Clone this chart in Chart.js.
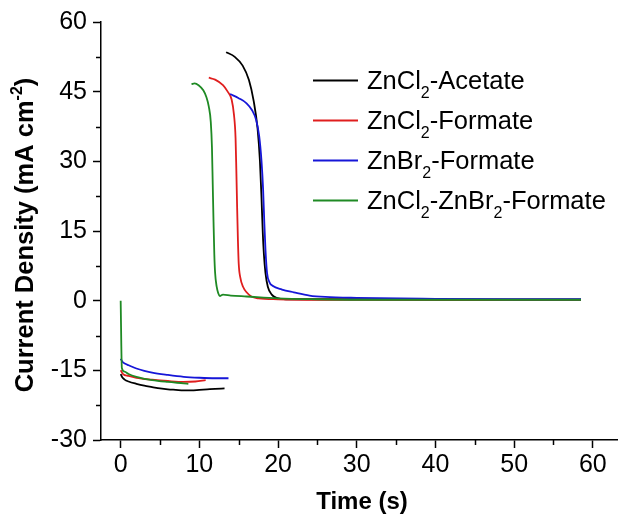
<!DOCTYPE html>
<html>
<head>
<meta charset="utf-8">
<script src="https://cdn.jsdelivr.net/npm/chart.js@4/dist/chart.umd.min.js"></script>
<style>
  html, body { margin: 0; padding: 0; background: #fff; }
  #wrap { width: 618px; height: 514px; }
</style>
</head>
<body>
<div id="wrap"><canvas id="chart" width="618" height="514"></canvas></div>
<script>
// noms des series (_{..} = indice, ^{..} = exposant)
const seriesNames  = ["ZnCl_{2}-Acetate", "ZnCl_{2}-Formate", "ZnBr_{2}-Formate", "ZnCl_{2}-ZnBr_{2}-Formate"];
const seriesColors = ["#000000", "#e01e1e", "#1616d8", "#1f8a24"];

// ZnCl2-Acetate
const clAcNegT = [0, 0.2, 0.5, 1, 2, 3, 4, 5, 6, 7, 8, 9, 10, 11, 12, 13.2];
const clAcNegI = [-15.8, -16.5, -17.0, -17.4, -17.9, -18.3, -18.6, -18.9, -19.1, -19.2, -19.3, -19.3, -19.2, -19.1, -19.0, -18.9];
const clAcPosT = [13.4, 14.5, 15.5, 16.3, 16.9, 17.4, 17.7, 17.9, 18.05, 18.2, 18.4, 18.7, 19.2, 19.8, 21, 25, 30, 40, 50, 58.5];
const clAcPosI = [53.5, 52.5, 50.6, 47.5, 43, 37, 30, 22, 15, 10, 6, 3, 1.3, 0.6, 0.3, 0.3, 0.3, 0.2, 0.2, 0.2];

// ZnCl2-Formate
const clFoNegT = [0, 0.3, 1, 2, 4, 6, 8, 9.5, 10.8];
const clFoNegI = [-15.0, -15.8, -16.2, -16.6, -17.0, -17.3, -17.5, -17.4, -17.1];
const clFoPosT = [11.2, 12.0, 13.0, 13.6, 14.1, 14.4, 14.6, 14.7, 14.8, 14.9, 15.0, 15.2, 15.55, 16, 16.6, 17.5, 20, 25, 30, 40, 50, 58.5];
const clFoPosI = [48.0, 47.6, 46.4, 45.0, 43.3, 40, 35, 28, 20, 13, 8, 5, 3, 1.8, 0.9, 0.5, 0.3, 0.2, 0.2, 0.2, 0.2, 0.2];

// ZnBr2-Formate
const brFoNegT = [0, 0.2, 0.6, 1, 2, 3, 4, 6, 8, 10, 12, 13.7];
const brFoNegI = [-12.5, -13.1, -13.6, -13.9, -14.6, -15.1, -15.5, -16.0, -16.4, -16.6, -16.7, -16.7];
const brFoPosT = [13.9, 15, 16, 16.7, 17.2, 17.6, 17.9, 18.1, 18.25, 18.4, 18.6, 18.9, 19.3, 20.5, 22, 24, 26, 30, 40, 50, 58.5];
const brFoPosI = [44.5, 43.6, 42.5, 41, 39, 35.5, 30, 24, 17, 11, 6, 4, 3.2, 2.4, 1.8, 1.1, 0.8, 0.6, 0.4, 0.3, 0.3];

// ZnCl2-ZnBr2-Formate
const mixNegT = [0, 0.15, 0.5, 1, 2, 4, 6, 8, 8.6];
const mixNegI = [0, -14.5, -15.3, -15.8, -16.4, -17.1, -17.5, -17.8, -17.9];
const mixPosT = [9.0, 9.4, 9.9, 10.5, 10.9, 11.2, 11.45, 11.6, 11.7, 11.8, 11.9, 12.0, 12.2, 12.4, 12.6, 13.0, 14, 16, 20, 25, 30, 40, 50, 58.5];
const mixPosI = [46.6, 46.8, 46.4, 45.3, 43.8, 41.8, 38.5, 33, 25, 17, 10, 6, 3, 1.6, 1.0, 1.3, 1.1, 0.9, 0.5, 0.3, 0.2, 0.2, 0.2, 0.2];

// axes
const xTicks = [0, 10, 20, 30, 40, 50, 60];
const xMinor = [5, 15, 25, 35, 45, 55];
const yTicks = [-30, -15, 0, 15, 30, 45, 60];
const yMinor = [-22.5, -7.5, 7.5, 22.5, 37.5, 52.5];

const xTitle = "Time (s)";
const yTitle = "Current Density (mA cm^{-2})";

const FONT = "'Liberation Sans', Arial, sans-serif";

const segments = [
  [clAcNegT, clAcNegI, clAcPosT, clAcPosI],
  [clFoNegT, clFoNegI, clFoPosT, clFoPosI],
  [brFoNegT, brFoNegI, brFoPosT, brFoPosI],
  [mixNegT, mixNegI, mixPosT, mixPosI]
];

function toPoints(t, i) {
  return t.map((v, k) => ({ x: v, y: i[k] }));
}

const datasets = segments.map((s, k) => ({
  label: seriesNames[k],
  data: toPoints(s[0], s[1]).concat([{ x: (s[0][s[0].length - 1] + s[2][0]) / 2, y: null }], toPoints(s[2], s[3])),
  borderColor: seriesColors[k],
  borderWidth: 1.8,
  showLine: true,
  pointRadius: 0,
  spanGaps: false,
  cubicInterpolationMode: "monotone"
})).reverse(); // le noir dessine au-dessus

// texte avec indices / exposants
function richParts(text) {
  return text.split(/(_\{[^}]*\}|\^\{[^}]*\})/).filter(p => p).map(p => {
    if (p.startsWith("_{")) return { t: p.slice(2, -1), k: "sub" };
    if (p.startsWith("^{")) return { t: p.slice(2, -1), k: "sup" };
    return { t: p, k: "" };
  });
}

function drawRich(ctx, text, x, y, size, bold, measureOnly) {
  let w = 0;
  richParts(text).forEach(p => {
    const s = p.k ? Math.round(size * 0.62) : size;
    ctx.font = (bold ? "bold " : "") + s + "px " + FONT;
    const dy = p.k === "sub" ? size * 0.38 : p.k === "sup" ? -size * 0.42 : 0;
    if (!measureOnly) ctx.fillText(p.t, x + w, y + dy);
    w += ctx.measureText(p.t).width;
  });
  return w;
}

const decor = {
  id: "decor",
  afterDraw(chart) {
    const ctx = chart.ctx, xs = chart.scales.x, ys = chart.scales.y, a = chart.chartArea;
    ctx.save();
    ctx.strokeStyle = "#000";
    ctx.lineWidth = 1.5;
    // petites graduations
    xMinor.forEach(v => {
      const p = Math.round(xs.getPixelForValue(v)) + 0.5;
      ctx.beginPath(); ctx.moveTo(p, a.bottom); ctx.lineTo(p, a.bottom + 5); ctx.stroke();
    });
    yMinor.forEach(v => {
      const p = Math.round(ys.getPixelForValue(v)) + 0.5;
      ctx.beginPath(); ctx.moveTo(a.left, p); ctx.lineTo(a.left - 5, p); ctx.stroke();
    });

    ctx.fillStyle = "#000";
    ctx.textBaseline = "alphabetic";
    ctx.textAlign = "left";

    // titre x
    const wx = drawRich(ctx, xTitle, 0, 0, 24, true, true);
    drawRich(ctx, xTitle, 362 - wx / 2, 509, 24, true);

    // titre y
    ctx.save();
    ctx.translate(33, 235);
    ctx.rotate(-Math.PI / 2);
    const wy = drawRich(ctx, yTitle, 0, 0, 25.5, true, true);
    drawRich(ctx, yTitle, -wy / 2, 0, 25.5, true);
    ctx.restore();

    // legende
    seriesNames.forEach((name, k) => {
      const y = 80.5 + k * 40;
      ctx.strokeStyle = seriesColors[k];
      ctx.lineWidth = 1.8;
      ctx.beginPath(); ctx.moveTo(313, y); ctx.lineTo(358, y); ctx.stroke();
      ctx.fillStyle = "#000";
      drawRich(ctx, name, 367, y + 8, 25.5, false);
    });
    ctx.restore();
  }
};

new Chart(document.getElementById("chart"), {
  type: "scatter",
  data: { datasets },
  options: {
    responsive: false,
    animation: false,
    devicePixelRatio: 1,
    layout: { padding: { top: 22, right: 0, left: 0, bottom: 0 } },
    plugins: { legend: { display: false }, tooltip: { enabled: false } },
    scales: {
      x: {
        type: "linear",
        min: -2.5,
        max: 63.2,
        afterFit: s => { s.height = 74; },
        afterBuildTicks: s => { s.ticks = xTicks.map(v => ({ value: v })); },
        ticks: { color: "#000", font: { family: FONT, size: 25 }, padding: 2, maxRotation: 0 },
        grid: { drawOnChartArea: false, tickLength: 8, tickColor: "#000", tickWidth: 1.5 },
        border: { color: "#000", width: 1.5 }
      },
      y: {
        type: "linear",
        min: -30,
        max: 60,
        afterFit: s => { s.width = 101; },
        afterBuildTicks: s => { s.ticks = yTicks.map(v => ({ value: v })); },
        ticks: { color: "#000", font: { family: FONT, size: 25 }, padding: 6 },
        grid: { drawOnChartArea: false, tickLength: 8, tickColor: "#000", tickWidth: 1.5 },
        border: { color: "#000", width: 1.5 }
      }
    }
  },
  plugins: [decor]
});
</script>
</body>
</html>
